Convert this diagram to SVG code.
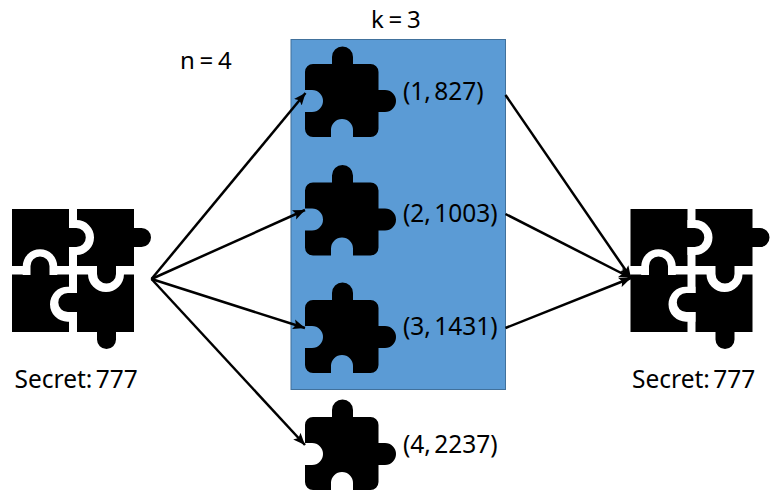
<svg xmlns="http://www.w3.org/2000/svg" width="770" height="490" viewBox="0 0 770 490">
<style>
text{font-family:"Noto Sans","Open Sans",sans-serif;font-size:24.500px;word-spacing:-3px;fill:#000}
#labels text{font-size:24px;word-spacing:-1.500px}
.c{fill:none;stroke:#000;stroke-width:2.500;marker-end:url(#a)}
</style>
<defs>
<marker id="a" markerUnits="userSpaceOnUse" markerWidth="13" markerHeight="11" refX="12" refY="5.500" orient="auto"><path d="M0,0.500L12,5.500L0,10.500L2.500,5.500Z" fill="#000"/></marker>
<path id="p" d="M8,0H27V-7A10.500,10.500 0 0 1 48,-7V0H65.500A8,8 0 0 1 73.500,8V26H80A11,11 0 0 1 80,48H73.500V65A8,8 0 0 1 65.500,73H48V66A10.500,10.500 0 0 0 26,66V73H8A8,8 0 0 1 0,65V48H7A11,11 0 0 0 7,26H0V8A8,8 0 0 1 8,0Z" fill="#000"/>
<g id="b">
<rect x="12" y="209" width="57" height="57"/>
<rect x="77" y="209" width="57" height="57"/>
<rect x="12" y="274.500" width="57" height="57.500"/>
<rect x="77" y="274.500" width="57" height="57.500"/>
<path d="M69,220H76.500A17.500,17.500 0 0 1 76.500,255H69ZM22.700,275V266.500A17.300,17.300 0 0 1 57.300,266.500V275ZM88,266V274A18,18 0 0 0 124,274V266ZM77,286.700H67.500A17.500,17.500 0 0 0 67.500,321.700H77Z" fill="#fff"/>
<path d="M68,228H76.300A9.500,9.500 0 0 1 76.300,247H68ZM30.500,276V266A9.500,9.500 0 0 1 49.500,266V276ZM97,265H116V274A9.500,9.500 0 0 1 97,274ZM78,293H67.800A9.500,9.500 0 0 0 67.800,312H78ZM133,228H141.500A9.500,9.500 0 0 1 141.500,247H133ZM97,331H116V339.500A9.500,9.500 0 0 1 97,339.500Z"/>
</g>
</defs>
<rect id="box" x="291" y="39.500" width="214.500" height="350" fill="#5b9bd5" stroke="#41719c" stroke-width="1"/>
<g id="connectors">
<path class="c" d="M151.500,279L305.500,93"/>
<path class="c" d="M151.500,279L305,210"/>
<path class="c" d="M151.500,279L305,328"/>
<path class="c" d="M151.500,279L305,445"/>
<path class="c" d="M505.500,95L631,278"/>
<path class="c" d="M505.500,214L631,278"/>
<path class="c" d="M505.500,328L631,278"/>
</g>
<g id="secret-left"><use href="#b"/><text x="14.500" y="388">Secret: 777</text></g>
<g id="secret-right"><use href="#b" x="618.500"/><text x="632" y="388">Secret: 777</text></g>
<g id="share-1"><use href="#p" x="305" y="64"/><text x="403" y="99.500">(1, 827)</text></g>
<g id="share-2"><use href="#p" x="305" y="182.500"/><text x="403" y="222">(2, 1003)</text></g>
<g id="share-3"><use href="#p" x="305" y="300"/><text x="403" y="335">(3, 1431)</text></g>
<g id="share-4"><use href="#p" x="305" y="417"/><text x="403" y="453">(4, 2237)</text></g>
<g id="labels"><text x="180" y="68.500">n = 4</text><text x="371" y="28">k = 3</text></g>
</svg>
